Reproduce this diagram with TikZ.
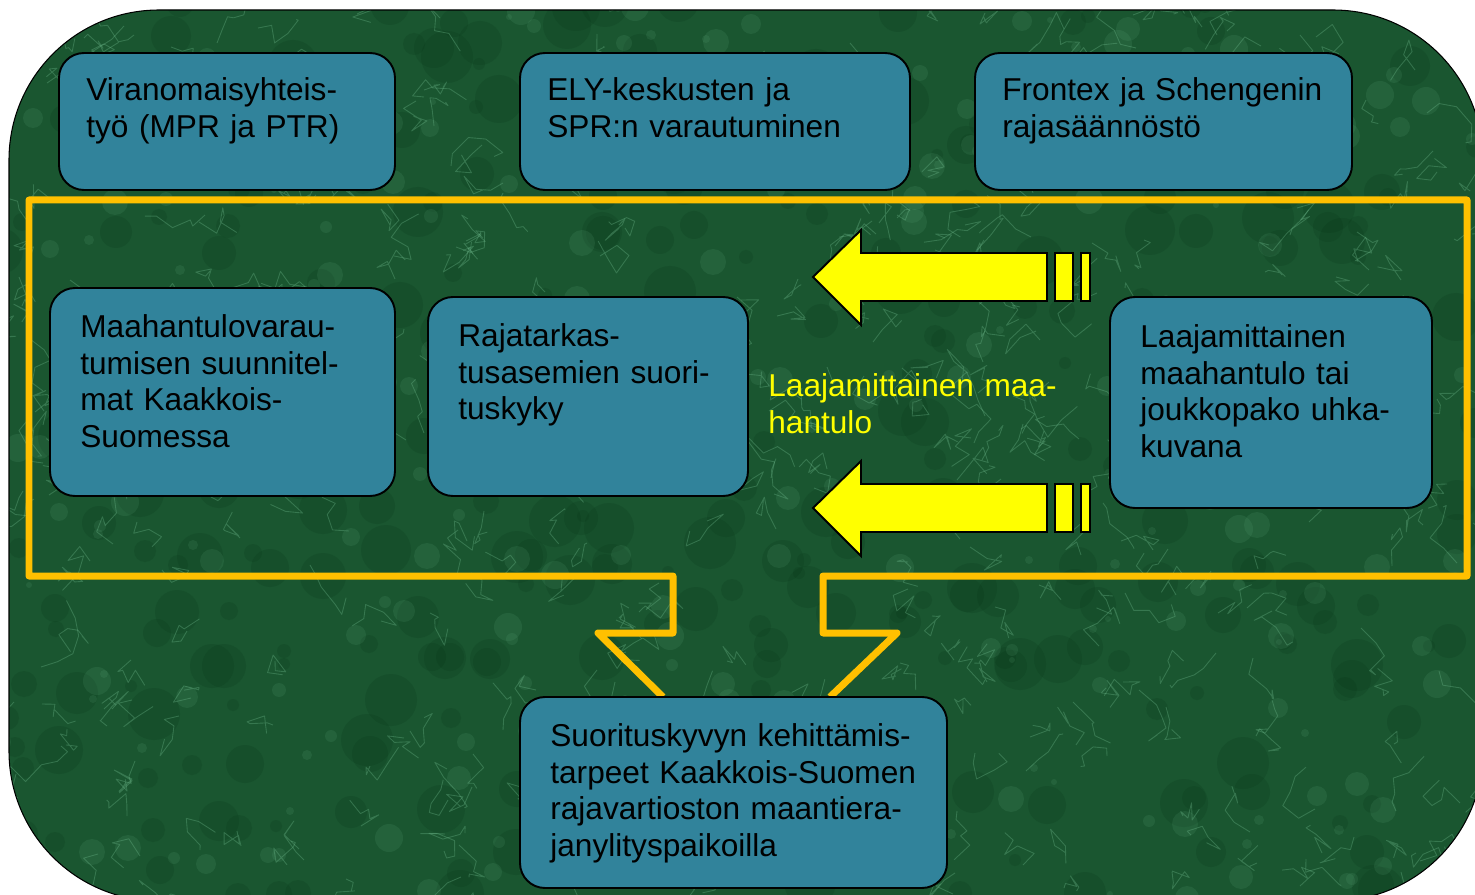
\documentclass[tikz,border=0pt]{standalone}
\usepackage{fontspec}
\setmainfont{Liberation Sans}
\definecolor{marble}{RGB}{26,86,48}
\definecolor{veinlight}{RGB}{110,185,140}
\definecolor{veindark}{RGB}{4,48,20}
\definecolor{boxteal}{RGB}{49,131,155}
\definecolor{frameyellow}{RGB}{255,192,0}
\definecolor{arrowyellow}{RGB}{255,255,0}
\tikzset{
    box/.style={draw=black,line width=1.1pt,fill=boxteal,rounded corners=0.5cm},
    txt/.style={anchor=north west,inner sep=0pt,align=left,text width=9cm,font=\fontsize{18}{21}\selectfont},
    blockarrow/.style={draw=black,line width=1.1pt,fill=arrowyellow},
    frame/.style={draw=frameyellow,line width=0.14cm,line join=round}
}
\begin{document}
\begin{tikzpicture}[x=0.02cm,y=-0.02cm]
    \useasboundingbox (0,0) rectangle (1475,895);
    \clip (0,0) rectangle (1475,895);
    \begin{scope}
        \clip[rounded corners=3cm] (9,10) rectangle (1483,901);
        \fill[marble] (0,0) rectangle (1500,910);
        \pgfmathsetseed{11}
        \foreach \i in {1,...,320}{
            \pgfmathsetmacro{\xa}{random(0,1480)}
            \pgfmathsetmacro{\ya}{random(0,900)}
            \pgfmathsetmacro{\ra}{random(6,26)}
            \fill[veindark,opacity=0.16] (\xa,\ya) circle ({\ra*0.02cm});
        }
        \foreach \i in {1,...,260}{
            \pgfmathsetmacro{\xa}{random(0,1480)}
            \pgfmathsetmacro{\ya}{random(0,900)}
            \pgfmathsetmacro{\ra}{random(3,14)}
            \fill[veinlight,opacity=0.12] (\xa,\ya) circle ({\ra*0.02cm});
        }
        \foreach \i in {1,...,480}{
            \pgfmathsetmacro{\xa}{random(0,1480)}
            \pgfmathsetmacro{\ya}{random(0,900)}
            \draw[veinlight,opacity=0.34,line width=0.5pt,line join=round]
                (\xa,\ya) -- ++({rand*18},{rand*18}) -- ++({rand*18},{rand*18})
                -- ++({rand*18},{rand*18}) -- ++({rand*18},{rand*18}) -- ++({rand*18},{rand*18});
        }
    \end{scope}
    \draw[line width=0.6pt,rounded corners=3cm] (9,10) rectangle (1483,901);
    \draw[frame] (663,697) -- (598,633) -- (673,633) -- (673,576) -- (29,576) -- (29,200)
        -- (1467,200) -- (1467,576) -- (823,576) -- (823,633) -- (897,633) -- (830,697);
    \draw[box] (59,53) rectangle (395,190);
    \node[txt] (viranomais) at (86,74) {\strut Viranomaisyhteis-\\työ (MPR ja PTR)};
    \draw[box] (520,53) rectangle (910,190);
    \node[txt] (ely) at (547,74) {\strut ELY-keskusten ja\\SPR:n varautuminen};
    \draw[box] (975,53) rectangle (1352,190);
    \node[txt] (frontex) at (1002,74) {\strut Frontex ja Schengenin\\rajasäännöstö};
    \draw[box] (50,288) rectangle (395,496);
    \node[txt] (suunnitelmat) at (80,311) {\strut Maahantulovarau-\\tumisen suunnitel-\\mat Kaakkois-\\Suomessa};
    \draw[box] (428,297) rectangle (748,496);
    \node[txt] (rajatarkastus) at (458,320) {\strut Rajatarkas-\\tusasemien suori-\\tuskyky};
    \draw[box] (1110,297) rectangle (1432,508);
    \node[txt] (uhkakuva) at (1140,321) {\strut Laajamittainen\\maahantulo tai\\joukkopako uhka-\\kuvana};
    \draw[box] (520,697) rectangle (947,888);
    \node[txt] (kehitys) at (550,720) {\strut Suorituskyvyn kehittämis-\\tarpeet Kaakkois-Suomen\\rajavartioston maantiera-\\janylityspaikoilla};
    \foreach \dy in {0,231}{
        \draw[blockarrow] (813,277+\dy) -- (861,230+\dy) -- (861,253+\dy) -- (1047,253+\dy)
            -- (1047,301+\dy) -- (861,301+\dy) -- (861,325+\dy) -- cycle;
        \draw[blockarrow] (1055,253+\dy) rectangle (1073,301+\dy);
        \draw[blockarrow] (1081,253+\dy) rectangle (1090,301+\dy);
    }
    \node[txt,text=arrowyellow] (maahantulo) at (768,370) {\strut Laajamittainen maa-\\hantulo};
\end{tikzpicture}
\end{document}
